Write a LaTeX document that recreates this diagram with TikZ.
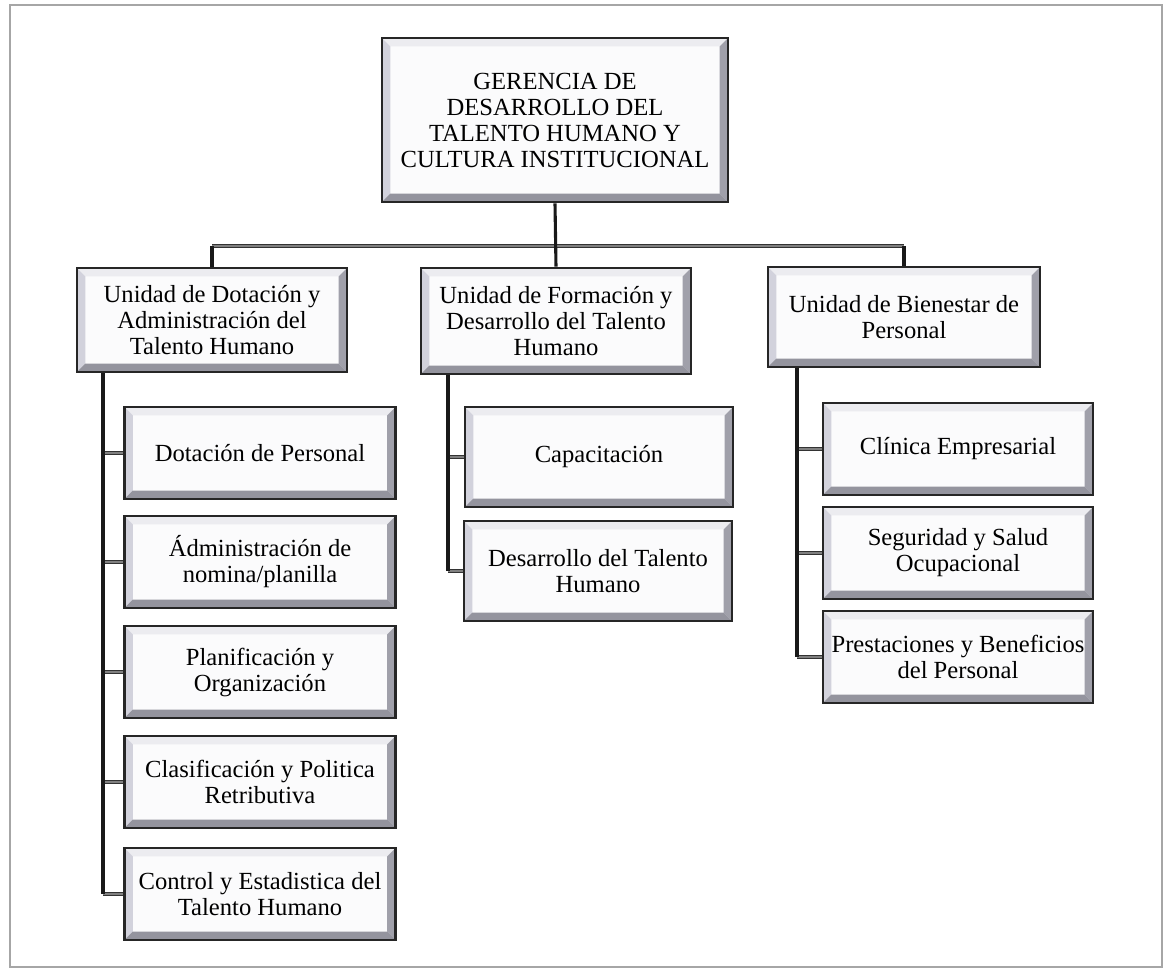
\documentclass[tikz,border=0pt]{standalone}
\usepackage{fontspec}
\setmainfont{Liberation Serif}
\definecolor{bevtop}{HTML}{ECECF0}
\definecolor{bevleft}{HTML}{D2D2DC}
\definecolor{bevright}{HTML}{A0A0AA}
\definecolor{bevbot}{HTML}{94949E}
\definecolor{boxface}{HTML}{FBFBFC}
\def\bw{0.21cm}
\def\ppb{path picture bounding box}
\tikzset{
	bevelbox/.style={draw=black!85, line width=2pt, fill=boxface, align=center, inner sep=0pt,
		font=\fontsize{17.5}{18.5}\selectfont,
		path picture={
			\fill[bevtop] (\ppb.north west) -- (\ppb.north east) -- ([shift={(-\bw,-\bw)}]\ppb.north east) -- ([shift={(\bw,-\bw)}]\ppb.north west) -- cycle;
			\fill[bevleft] (\ppb.north west) -- (\ppb.south west) -- ([shift={(\bw,\bw)}]\ppb.south west) -- ([shift={(\bw,-\bw)}]\ppb.north west) -- cycle;
			\fill[bevright] (\ppb.north east) -- (\ppb.south east) -- ([shift={(-\bw,\bw)}]\ppb.south east) -- ([shift={(-\bw,-\bw)}]\ppb.north east) -- cycle;
			\fill[bevbot] (\ppb.south west) -- (\ppb.south east) -- ([shift={(-\bw,\bw)}]\ppb.south east) -- ([shift={(\bw,\bw)}]\ppb.south west) -- cycle;
		}},
	vline/.style={draw=black!90, line width=2.2pt},
	hline/.style={draw=black!80, double=black!50, double distance=1.2pt, line width=0.9pt},
}

\begin{document}
\begin{tikzpicture}[x=0.025cm, y=-0.025cm]
			%%%%% START %%%%%
			
			\useasboundingbox (0, 0) rectangle (1166, 979);
			\draw[draw=black!35, line width=1.2pt] (10, 5) rectangle (1162, 967);
			
			\node[bevelbox, minimum width=8.65cm, minimum height=4.1cm] (ger) at (555, 120)
				{GERENCIA DE\\DESARROLLO DEL\\TALENTO HUMANO Y\\CULTURA INSTITUCIONAL};
			
			\node[bevelbox, minimum width=6.75cm, minimum height=2.6cm] (udot) at (212, 320)
				{Unidad de Dotación y\\Administración del\\Talento Humano};
			\node[bevelbox, minimum width=6.75cm, minimum height=2.65cm] (uform) at (556, 321)
				{Unidad de Formación y\\Desarrollo del Talento\\Humano};
			\node[bevelbox, minimum width=6.8cm, minimum height=2.5cm] (ubien) at (904, 317)
				{Unidad de Bienestar de\\Personal};
			
			\node[bevelbox, minimum width=6.78cm, minimum height=2.3cm] (dot) at (260, 453) {Dotación de Personal};
			\node[bevelbox, minimum width=6.78cm, minimum height=2.3cm] (nom) at (260, 562) {Ádministración de\\nomina/planilla};
			\node[bevelbox, minimum width=6.78cm, minimum height=2.3cm] (plan) at (260, 672) {Planificación y\\Organización};
			\node[bevelbox, minimum width=6.78cm, minimum height=2.3cm] (clas) at (260, 782) {Clasificación y Politica\\Retributiva};
			\node[bevelbox, minimum width=6.78cm, minimum height=2.3cm] (ctrl) at (260, 894) {Control y Estadistica del\\Talento Humano};
			
			\node[bevelbox, minimum width=6.7cm, minimum height=2.5cm] (cap) at (599, 457) {Capacitación};
			\node[bevelbox, minimum width=6.7cm, minimum height=2.5cm] (dtal) at (598, 571) {Desarrollo del Talento\\Humano};
			
			\node[bevelbox, minimum width=6.75cm, minimum height=2.3cm] (clin) at (958, 449) {Clínica Empresarial};
			\node[bevelbox, minimum width=6.75cm, minimum height=2.3cm] (seg) at (958, 553) {Seguridad y Salud\\Ocupacional};
			\node[bevelbox, minimum width=6.75cm, minimum height=2.3cm] (pres) at (958, 657) {Prestaciones y Beneficios\\del Personal};
			
			\coordinate (bus) at (555, 246);
			\coordinate (spL) at (103, 0);
			\coordinate (spM) at (448, 0);
			\coordinate (spR) at (797, 0);
			
			\draw[hline] (udot.north |- bus) -- (ubien.north |- bus);
			\draw[hline] (spL |- dot) -- (dot.west);
			\draw[hline] (spL |- nom) -- (nom.west);
			\draw[hline] (spL |- plan) -- (plan.west);
			\draw[hline] (spL |- clas) -- (clas.west);
			\draw[hline] (spL |- ctrl) -- (ctrl.west);
			\draw[hline] (spM |- cap) -- (cap.west);
			\draw[hline] (spM |- dtal) -- (dtal.west);
			\draw[hline] (spR |- clin) -- (clin.west);
			\draw[hline] (spR |- seg) -- (seg.west);
			\draw[hline] (spR |- pres) -- (pres.west);
			
			\draw[vline] (ger.south) -- (uform.north);
			\draw[vline] (udot.north |- bus) -- (udot.north);
			\draw[vline] (ubien.north |- bus) -- (ubien.north);
			\draw[vline] (spL |- udot.south) -- (spL |- ctrl);
			\draw[vline] (spM |- uform.south) -- (spM |- dtal);
			\draw[vline] (spR |- ubien.south) -- (spR |- pres);
			
			%%%%% END %%%%%
\end{tikzpicture}
\end{document}
